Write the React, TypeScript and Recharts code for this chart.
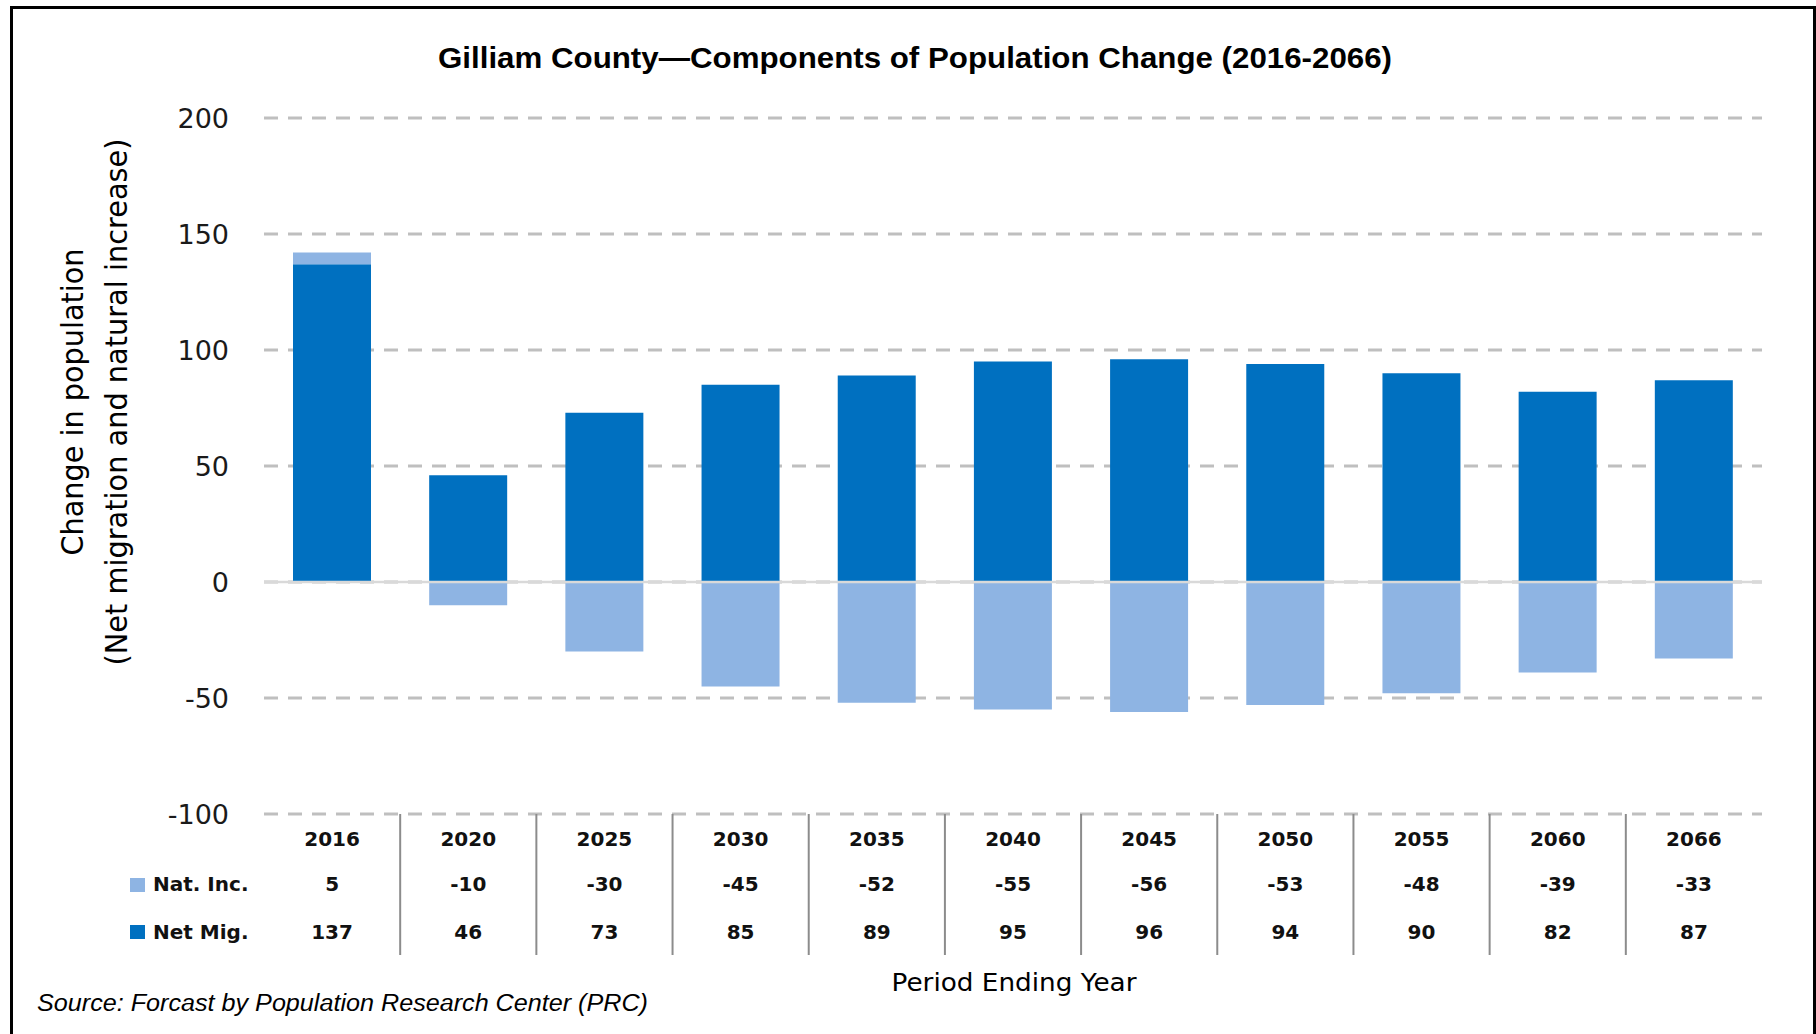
import React from "react";
import { BarChart, Bar, XAxis, YAxis, CartesianGrid, ReferenceLine } from "recharts";

const years = ["2016", "2020", "2025", "2030", "2035", "2040", "2045", "2050", "2055", "2060", "2066"];
const natInc = [5, -10, -30, -45, -52, -55, -56, -53, -48, -39, -33];
const netMig = [137, 46, 73, 85, 89, 95, 96, 94, 90, 82, 87];
const yTicks = [-100, -50, 0, 50, 100, 150, 200];

const COLOR_NET = "#0070C0";
const COLOR_NAT = "#8EB4E3";

const data = years.map((y, i) => ({ year: y, netMig: netMig[i], natInc: natInc[i] }));

const TableTick = (props: any) => {
  const { x, y, payload, index, width, visibleTicksCount } = props;
  const i = typeof payload?.index === "number" ? payload.index : index;
  const bw = width && visibleTicksCount ? width / visibleTicksCount : 136.2;
  const font = { fontFamily: "'DejaVu Sans', sans-serif", fontSize: 20, fontWeight: 700, fill: "#111" };
  return (
    <g>
      {i > 0 && (
        <line x1={x - bw / 2} x2={x - bw / 2} y1={y} y2={y + 141} stroke="#8c8c8c" strokeWidth={2} />
      )}
      <text x={x} y={y + 25} textAnchor="middle" dominantBaseline="central" {...font}>
        {payload.value}
      </text>
      <text x={x} y={y + 70} textAnchor="middle" dominantBaseline="central" {...font}>
        {natInc[i]}
      </text>
      <text x={x} y={y + 118} textAnchor="middle" dominantBaseline="central" {...font}>
        {netMig[i]}
      </text>
      {i === 0 && (
        <g>
          <rect x={130} y={y + 64} width={15} height={14} fill={COLOR_NAT} />
          <text x={153} y={y + 70} dominantBaseline="central" {...font}>
            Nat. Inc.
          </text>
          <rect x={130} y={y + 111} width={15} height={14} fill={COLOR_NET} />
          <text x={153} y={y + 118} dominantBaseline="central" {...font}>
            Net Mig.
          </text>
        </g>
      )}
    </g>
  );
};

export default function App() {
  return (
    <div style={{ position: "relative", width: 1816, height: 1034, overflow: "hidden", background: "#fff" }}>
      <style>{"body{margin:0}"}</style>
      <div
        style={{
          position: "absolute",
          left: 10,
          top: 6,
          width: 1806,
          height: 1045,
          border: "3px solid #000",
          boxSizing: "border-box",
        }}
      />
      <div style={{ position: "absolute", left: 0, top: 0 }}>
        <BarChart
          width={1816}
          height={1034}
          data={data}
          stackOffset="sign"
          margin={{ top: 118, right: 54, bottom: 70, left: 164 }}
        >
          <CartesianGrid vertical={false} stroke="#BFBFBF" strokeWidth={3} strokeDasharray="14 10" />
          <YAxis
            width={100}
            domain={[-100, 200]}
            ticks={yTicks}
            axisLine={false}
            tickLine={false}
            tickSize={0}
            tickMargin={35}
            tick={{ fontFamily: "'DejaVu Sans', sans-serif", fontSize: 27, fill: "#1a1a1a" }}
          />
          <XAxis
            dataKey="year"
            height={150}
            interval={0}
            axisLine={false}
            tickLine={false}
            tickSize={0}
            tickMargin={0}
            tick={<TableTick />}
          />
          <Bar dataKey="netMig" stackId="a" fill={COLOR_NET} barSize={78} isAnimationActive={false} />
          <Bar dataKey="natInc" stackId="a" fill={COLOR_NAT} barSize={78} isAnimationActive={false} />
          <ReferenceLine y={0} stroke="#D9D9D9" strokeWidth={2.5} />
        </BarChart>
      </div>
      <svg
        width={1816}
        height={1034}
        style={{ position: "absolute", left: 0, top: 0, pointerEvents: "none" }}
      >
        <text
          x={438}
          y={68}
          textLength={954}
          lengthAdjust="spacingAndGlyphs"
          style={{ fontFamily: "'Liberation Sans', Arial, sans-serif", fontSize: 29, fontWeight: 700 }}
          fill="#000"
        >
          Gilliam County—Components of Population Change (2016-2066)
        </text>
        <g transform="translate(72,402) rotate(-90)">
          <text
            x={0}
            y={0}
            textAnchor="middle"
            dominantBaseline="central"
            textLength={307}
            lengthAdjust="spacingAndGlyphs"
            style={{ fontFamily: "'DejaVu Sans', sans-serif", fontSize: 30 }}
            fill="#000"
          >
            Change in population
          </text>
        </g>
        <g transform="translate(116,402) rotate(-90)">
          <text
            x={0}
            y={0}
            textAnchor="middle"
            dominantBaseline="central"
            textLength={527}
            lengthAdjust="spacingAndGlyphs"
            style={{ fontFamily: "'DejaVu Sans', sans-serif", fontSize: 30 }}
            fill="#000"
          >
            (Net migration and natural increase)
          </text>
        </g>
        <text
          x={1014}
          y={982}
          textAnchor="middle"
          dominantBaseline="central"
          textLength={245}
          lengthAdjust="spacingAndGlyphs"
          style={{ fontFamily: "'DejaVu Sans', sans-serif", fontSize: 25 }}
          fill="#000"
        >
          Period Ending Year
        </text>
        <text
          x={37}
          y={1003}
          dominantBaseline="central"
          textLength={611}
          lengthAdjust="spacingAndGlyphs"
          style={{ fontFamily: "'Liberation Sans', Arial, sans-serif", fontSize: 23, fontStyle: "italic" }}
          fill="#000"
        >
          Source: Forcast by Population Research Center (PRC)
        </text>
      </svg>
    </div>
  );
}
